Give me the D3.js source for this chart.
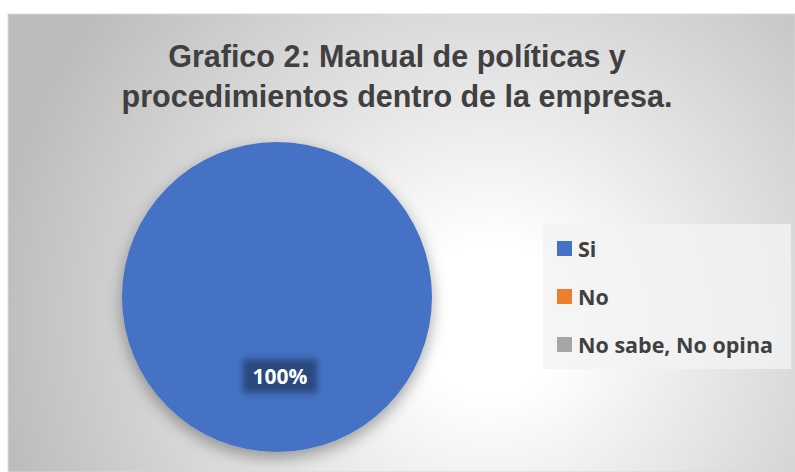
<!DOCTYPE html>
<html>
<head>
<meta charset="utf-8">
<script src="https://cdnjs.cloudflare.com/ajax/libs/d3/7.8.5/d3.min.js"></script>
<style>
  body { margin: 0; background: #ffffff; }
</style>
</head>
<body>
<script>
// Data
var categories = ["Si", "No", "No sabe, No opina"]
var values = [100, 0, 0]
var colours = ["#4472c4", "#ed7d31", "#a5a5a5"]
var titleLines = ["Grafico 2: Manual de políticas y", "procedimientos dentro de la empresa."]

var W = 795, H = 472

var svg = d3.select("body").append("svg")
    .attr("width", W)
    .attr("height", H)

var defs = svg.append("defs")

// Background radial gradient (white centre, grey edges)
var bg = defs.append("radialGradient")
    .attr("id", "bg")
    .attr("gradientUnits", "userSpaceOnUse")
    .attr("cx", 490).attr("cy", 320).attr("r", 500)
bg.append("stop").attr("offset", "0").attr("stop-color", "#ffffff")
bg.append("stop").attr("offset", "0.15").attr("stop-color", "#ffffff")
bg.append("stop").attr("offset", "1").attr("stop-color", "#bcbcbc")

// soft shadow for the pie
var shadow = defs.append("filter").attr("id", "shadow")
    .attr("x", "-20%").attr("y", "-20%").attr("width", "140%").attr("height", "140%")
shadow.append("feGaussianBlur").attr("in", "SourceAlpha").attr("stdDeviation", 8).attr("result", "b")
shadow.append("feOffset").attr("in", "b").attr("dx", 0).attr("dy", 6).attr("result", "o")
shadow.append("feComponentTransfer").attr("in", "o").attr("result", "s")
    .append("feFuncA").attr("type", "linear").attr("slope", 0.35)
var m = shadow.append("feMerge")
m.append("feMergeNode").attr("in", "s")
m.append("feMergeNode").attr("in", "SourceGraphic")

// blurred box behind data label
var lblBlur = defs.append("filter").attr("id", "lblblur")
    .attr("x", "-30%").attr("y", "-30%").attr("width", "160%").attr("height", "160%")
lblBlur.append("feGaussianBlur").attr("stdDeviation", 3)

svg.append("rect")
    .attr("x", 8).attr("y", 14)
    .attr("width", W - 8).attr("height", H - 14)
    .attr("fill", "url(#bg)")
    .attr("stroke", "#d9d9d9")
    .attr("stroke-width", 1)

// Title
svg.append("text")
    .attr("text-anchor", "middle")
    .attr("font-family", "Liberation Sans, Arial, sans-serif")
    .attr("font-weight", "bold")
    .attr("font-size", 30.5)
    .attr("fill", "#404040")
    .selectAll("tspan")
    .data(titleLines)
    .enter()
    .append("tspan")
    .attr("x", 397)
    .attr("y", function(d, i) { return 67 + i * 40 })
    .text(function(d) { return d })

// Pie
var cx = 277, cy = 297, r = 155

var pie = d3.pie().sort(null).value(function(d) { return d })
var arc = d3.arc().innerRadius(0).outerRadius(r)

var g = svg.append("g")
    .attr("transform", "translate(" + cx + "," + cy + ")")

g.selectAll("path")
    .data(pie(values))
    .enter()
    .append("path")
    .attr("d", arc)
    .attr("fill", function(d, i) { return colours[i] })
    .attr("filter", "url(#shadow)")

// Data label
var total = d3.sum(values)
var labelArc = d3.arc().innerRadius(r * 0.5).outerRadius(r * 0.5)
var slices = pie(values).filter(function(d) { return d.data > 0 })

var lbl = g.selectAll(".lbl")
    .data(slices)
    .enter()
    .append("g")
    .attr("class", "lbl")
    .attr("transform", function(d) {
        var c = labelArc.centroid(d)
        return "translate(" + (c[0] + 3) + "," + (c[1] + 1.5) + ")"
    })

lbl.append("rect")
    .attr("x", -37).attr("y", -17)
    .attr("width", 74).attr("height", 34)
    .attr("fill", "#2c4a7e")
    .attr("filter", "url(#lblblur)")

lbl.append("text")
    .attr("text-anchor", "middle")
    .attr("y", 7.5)
    .attr("font-family", "Open Sans, sans-serif")
    .attr("font-weight", "bold")
    .attr("font-size", 21)
    .attr("fill", "#ffffff")
    .text(function(d) { return Math.round(d.data / total * 100) + "%" })

// Legend
svg.append("rect")
    .attr("x", 543).attr("y", 224)
    .attr("width", 248).attr("height", 145)
    .attr("fill", "#f2f2f2")
    .attr("opacity", 0.8)

var legend = svg.selectAll(".leg")
    .data(categories)
    .enter()
    .append("g")
    .attr("class", "leg")
    .attr("transform", function(d, i) { return "translate(557," + (249 + i * 48) + ")" })

legend.append("rect")
    .attr("x", 0).attr("y", -8)
    .attr("width", 15).attr("height", 15)
    .attr("fill", function(d, i) { return colours[i] })

legend.append("text")
    .attr("x", 21).attr("y", 7.5)
    .attr("font-family", "Open Sans, sans-serif")
    .attr("font-weight", "bold")
    .attr("font-size", 21.5)
    .attr("fill", "#404040")
    .text(function(d) { return d })
</script>
</body>
</html>
